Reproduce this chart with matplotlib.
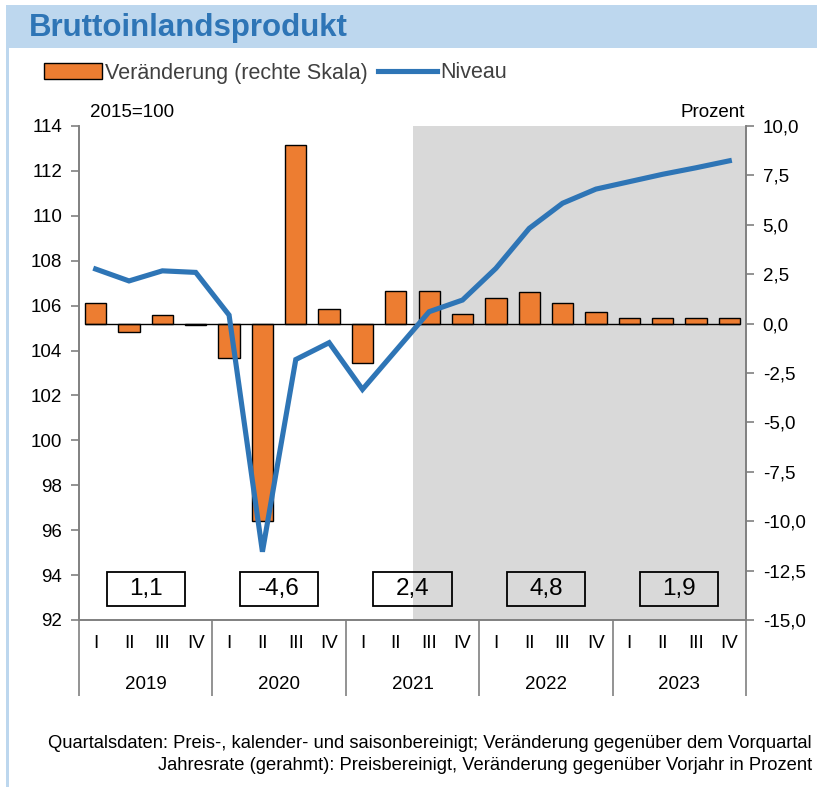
import matplotlib
matplotlib.use("Agg")
import matplotlib.pyplot as plt
from matplotlib.patches import Rectangle
from matplotlib.transforms import blended_transform_factory

plt.rcParams["font.family"] = ["Liberation Sans", "DejaVu Sans"]

# data
years = ["2019", "2020", "2021", "2022", "2023"]
quarters = ["I", "II", "III", "IV"]
change = [1.05, -0.45, 0.42, -0.05,
          -1.75, -10.0, 9.02, 0.72,
          -2.0, 1.63, 1.67, 0.48,
          1.30, 1.59, 1.02, 0.58,
          0.29, 0.29, 0.28, 0.28]
level = [107.63, 107.1, 107.55, 107.48,
         105.58, 95.04, 103.6, 104.35,
         102.27, 104.0, 105.73, 106.25,
         107.66, 109.44, 110.56, 111.19,
         111.52, 111.85, 112.14, 112.45]
annual = ["1,1", "-4,6", "2,4", "4,8", "1,9"]
forecast_start = 10

ORANGE = "#ED7D31"
BLUE = "#2E75B6"
GREY = "#808080"
FS = 13.5

fig = plt.figure(figsize=(8.17, 7.87), dpi=100)

# header band and left frame line
fig.patches.append(Rectangle((6 / 817, 1 - 48 / 787), 1, 43 / 787,
                             transform=fig.transFigure, facecolor="#BDD7EE",
                             edgecolor="none"))
fig.patches.append(Rectangle((6 / 817, 0), 3 / 817, 1 - 48 / 787,
                             transform=fig.transFigure, facecolor="#BDD7EE",
                             edgecolor="none"))
fig.text(29 / 817, 1 - 28 / 787, "Bruttoinlandsprodukt", fontsize=22.5,
         fontweight="bold", color=BLUE, va="center")

ax = fig.add_axes([79 / 817, 1 - 620 / 787, 667 / 817, 494 / 787])
n = len(change)
x = list(range(n))

ax.axvspan(forecast_start - 0.5, n - 0.5, color="#D9D9D9", zorder=0, lw=0)
bw = 0.64
bars = ax.bar(x, change, width=bw, color=ORANGE, edgecolor="black",
              linewidth=1, zorder=2, label="Veränderung (rechte Skala)")
ax.hlines(0, -bw / 2, n - 1 + bw / 2, color="black", lw=1, zorder=3)
ax.set_ylim(-15, 10)
ax.set_xlim(-0.5, n - 0.5)

ax2 = ax.twinx()
ax2.set_ylim(92, 114)
line, = ax2.plot(x, level, color=BLUE, lw=3.7, solid_joinstyle="miter",
                 label="Niveau", zorder=4)

# right scale for bars, left scale for level (set after twinx)
ax.yaxis.tick_right()
ax.yaxis.set_label_position("right")
ax.set_yticks([-15 + 2.5 * i for i in range(11)])
ax.set_yticklabels([f"{-15 + 2.5 * i:.1f}".replace(".", ",") for i in range(11)])
ax2.yaxis.tick_left()
ax2.set_yticks(range(92, 115, 2))

for a in (ax, ax2):
    a.spines["top"].set_visible(False)
    a.tick_params(axis="y", labelsize=FS, color=GREY, length=6, width=1.2,
                  pad=6)
    for s in ("left", "right", "bottom"):
        a.spines[s].set_color(GREY)
        a.spines[s].set_linewidth(1.2)

# category axis
ax.set_xticks(x)
ax.set_xticklabels(quarters * len(years), fontsize=FS)
ax.tick_params(axis="x", which="major", length=0, pad=11)
ax.set_xticks([-0.5 + 4 * i for i in range(len(years) + 1)], minor=True)
ax.tick_params(axis="x", which="minor", length=55, color=GREY, width=1.2)
trans = blended_transform_factory(ax.transData, ax.transAxes)
trans2 = blended_transform_factory(ax2.transData, ax2.transAxes)
for i, yr in enumerate(years):
    ax.text(1.5 + 4 * i, -0.13, yr, transform=trans, ha="center",
            va="center", fontsize=FS)
    rect = Rectangle((1.5 + 4 * i - 1.17, 0.0283), 2.34, 0.069,
                     transform=trans2, facecolor="none", edgecolor="black",
                     lw=1.3, zorder=5)
    ax2.add_patch(rect)
    ax2.text(1.5 + 4 * i, 0.063, annual[i], transform=trans2,
             ha="center", va="center", fontsize=17.5, zorder=6)

ax.text(0.016, 1.028, "2015=100", transform=ax.transAxes, fontsize=FS,
        ha="left", va="center")
ax.text(0.998, 1.028, "Prozent", transform=ax.transAxes, fontsize=FS,
        ha="right", va="center")

fig.legend(handles=[bars, line], loc="center left",
           bbox_to_anchor=(35 / 817, 1 - 73 / 787), ncol=2, frameon=False,
           fontsize=15.5, handlelength=2.7, handletextpad=0.15,
           columnspacing=0.5, labelcolor="#404040", borderaxespad=0)

fig.text(812 / 817, 1 - 743 / 787,
         "Quartalsdaten: Preis-, kalender- und saisonbereinigt; "
         "Veränderung gegenüber dem Vorquartal",
         ha="right", va="center", fontsize=13.2)
fig.text(812 / 817, 1 - 765 / 787,
         "Jahresrate (gerahmt): Preisbereinigt, Veränderung gegenüber "
         "Vorjahr in Prozent",
         ha="right", va="center", fontsize=13.2)

fig.savefig("out.png", dpi=100)
